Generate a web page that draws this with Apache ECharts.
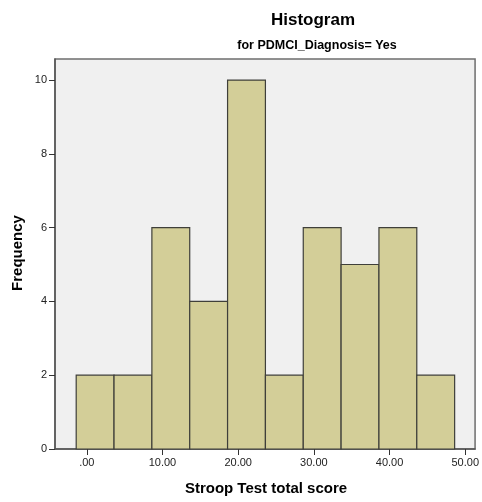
<!DOCTYPE html>
<html>
<head>
<meta charset="utf-8">
<script src="https://cdn.jsdelivr.net/npm/echarts@6/dist/echarts.min.js"></script>
<style>
  html, body { margin: 0; padding: 0; background: #fff; }
  #chart { width: 482px; height: 502px; }
</style>
</head>
<body>
<div id="chart"></div>
<script>
// Histogram bins (lower/upper edges) and their frequencies
const binEdges = [-1.4, 3.6, 8.6, 13.6, 18.6, 23.6, 28.6, 33.6, 38.6, 43.6, 48.6];
const frequencies = [2, 2, 6, 4, 10, 2, 6, 5, 6, 2];

// Axis ticks
const xTickValues = [0, 10, 20, 30, 40, 50];
const xTickLabels = ['.00', '10.00', '20.00', '30.00', '40.00', '50.00'];
const yTickValues = [0, 2, 4, 6, 8, 10];

const binData = frequencies.map((f, i) => [binEdges[i], binEdges[i + 1], f]);

const FONT = '"Liberation Sans", Arial, sans-serif';

const chart = echarts.init(document.getElementById('chart'), null, { renderer: 'canvas' });

chart.setOption({
  animation: false,
  backgroundColor: '#ffffff',
  graphic: [
    {
      type: 'text', x: 313, y: 20,
      style: { text: 'Histogram', font: 'bold 17px ' + FONT, fill: '#000', align: 'center', verticalAlign: 'middle' }
    },
    {
      type: 'text', x: 317, y: 46,
      style: { text: 'for PDMCI_Diagnosis= Yes', font: 'bold 12.5px ' + FONT, fill: '#000', align: 'center', verticalAlign: 'middle' }
    },
    {
      type: 'text', x: 266, y: 489,
      style: { text: 'Stroop Test total score', font: 'bold 15px ' + FONT, fill: '#000', align: 'center', verticalAlign: 'middle' }
    },
    {
      type: 'text', x: 18, y: 253, rotation: Math.PI / 2,
      style: { text: 'Frequency', font: 'bold 15px ' + FONT, fill: '#000', align: 'center', verticalAlign: 'middle' }
    }
  ],
  grid: {
    left: 55, right: 5, top: 59, bottom: 53,
    show: true,
    backgroundColor: '#f0f0f0',
    borderColor: '#6e6e6e',
    borderWidth: 1.5
  },
  xAxis: {
    type: 'value',
    min: -4.2,
    max: 51.3,
    splitLine: { show: false },
    axisLine: { show: true, onZero: false, lineStyle: { color: '#555', width: 1.5 } },
    axisTick: { show: true, length: 6, customValues: xTickValues, lineStyle: { color: '#333', width: 1 } },
    axisLabel: {
      customValues: xTickValues,
      formatter: v => xTickLabels[xTickValues.indexOf(v)],
      fontFamily: FONT, fontSize: 11, color: '#222', margin: 8
    }
  },
  yAxis: {
    type: 'value',
    min: 0,
    max: 10.57,
    splitLine: { show: false },
    axisLine: { show: true, onZero: false, lineStyle: { color: '#555', width: 1.5 } },
    axisTick: { show: true, length: 6, customValues: yTickValues, lineStyle: { color: '#333', width: 1 } },
    axisLabel: {
      customValues: yTickValues,
      fontFamily: FONT, fontSize: 11, color: '#222', margin: 8
    }
  },
  series: [{
    type: 'custom',
    data: binData,
    encode: { x: [0, 1], y: 2 },
    renderItem: function (params, api) {
      const p0 = api.coord([api.value(0), 0]);
      const p1 = api.coord([api.value(1), api.value(2)]);
      return {
        type: 'rect',
        shape: { x: p0[0], y: p1[1], width: p1[0] - p0[0], height: p0[1] - p1[1] },
        style: { fill: '#d3ce98', stroke: '#3f3f3a', lineWidth: 1.2 }
      };
    }
  }]
});
</script>
</body>
</html>
